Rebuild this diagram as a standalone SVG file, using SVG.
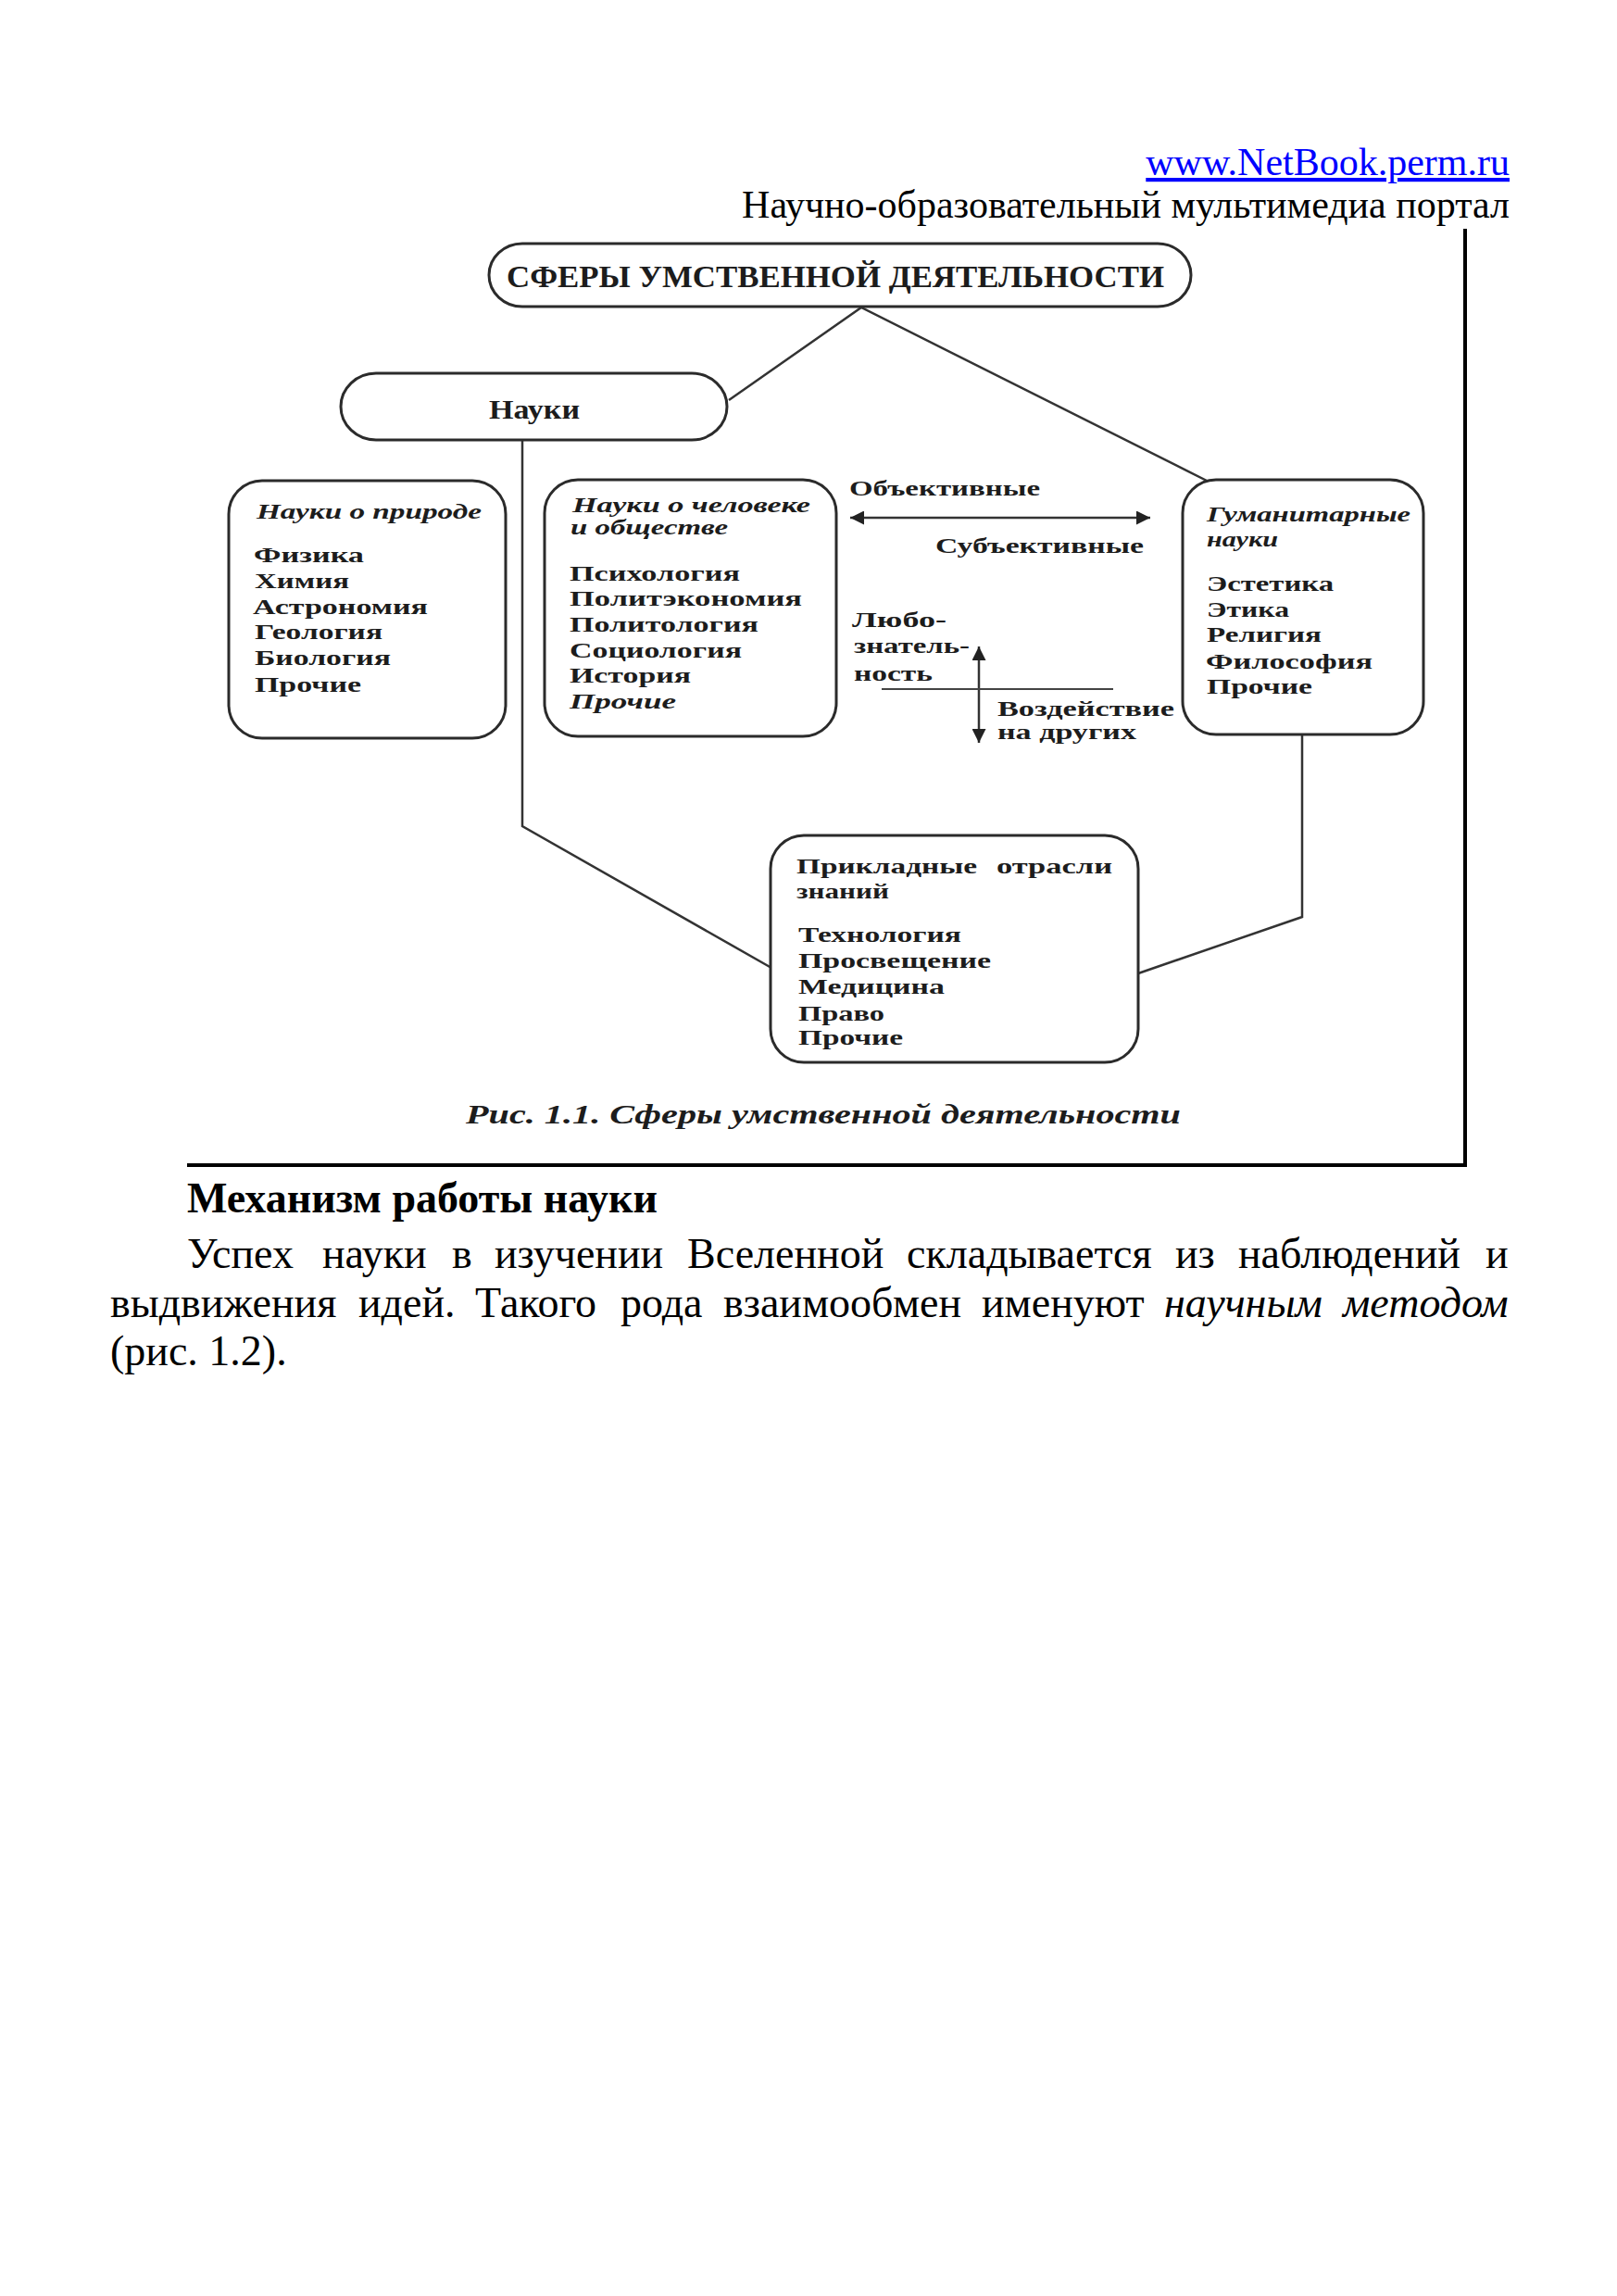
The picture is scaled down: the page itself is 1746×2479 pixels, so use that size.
<svg xmlns="http://www.w3.org/2000/svg" width="1746" height="2479" viewBox="0 0 1746 2479">
<style>
.page{font-family:"Liberation Serif","Times New Roman",serif;font-size:46px;fill:#000}
.hdr{font-family:"Liberation Serif","Times New Roman",serif;font-size:42px;fill:#000}
.d{font-family:"Liberation Serif","Times New Roman",serif;font-size:24px;font-weight:bold;fill:#1c1c1c}
.it{font-style:italic}
.box{fill:#fff;stroke:#2b2b2b;stroke-width:3}
.con{fill:none;stroke:#333;stroke-width:2.5}
.frame{fill:none;stroke:#000;stroke-width:4}
</style>
<defs>
<marker id="ah" viewBox="0 0 10 10" refX="10" refY="5" markerUnits="userSpaceOnUse" markerWidth="20" markerHeight="15" orient="auto-start-reverse">
<path d="M0,0 L10,5 L0,10 z" fill="#222"/>
</marker>
</defs>
<rect width="1746" height="2479" fill="#fff"/>

<g id="header">
<text class="hdr" x="1630" y="189" text-anchor="end" style="fill:#0000ff" text-decoration="underline">www.NetBook.perm.ru</text>
<text class="hdr" x="1630" y="235" text-anchor="end">Научно-образовательный мультимедиа портал</text>
</g>

<g id="frame">
<path class="frame" d="M1582,247 L1582,1258 L202,1258"/>
</g>

<g id="connectors">
<polyline class="con" points="787,432 930,332 1307,521"/>
<polyline class="con" points="564,475 564,892 833,1045"/>
<polyline class="con" points="1406,793 1406,990 1229,1051"/>
<line class="con" x1="918" y1="559" x2="1242" y2="559" marker-start="url(#ah)" marker-end="url(#ah)"/>
<line class="con" x1="1057" y1="698" x2="1057" y2="802" marker-start="url(#ah)" marker-end="url(#ah)"/>
<line x1="952" y1="744" x2="1202" y2="744" stroke="#444" stroke-width="2"/>
</g>

<g id="node-root">
<rect class="box" x="528" y="263" width="758" height="68" rx="36" ry="34"/>
<text class="d" x="547" y="310" style="font-size:34px" textLength="710" lengthAdjust="spacingAndGlyphs">СФЕРЫ УМСТВЕННОЙ ДЕЯТЕЛЬНОСТИ</text>
</g>

<g id="node-nauki">
<rect class="box" x="368" y="403" width="417" height="72" rx="38" ry="36"/>
<text class="d" x="528" y="452" style="font-size:29px" textLength="98" lengthAdjust="spacingAndGlyphs">Науки</text>
</g>

<g id="node-nature">
<rect class="box" x="247" y="519" width="299" height="278" rx="36"/>
<text class="d it" x="277" y="560" textLength="243" lengthAdjust="spacingAndGlyphs">Науки о природе</text>
<text class="d" x="274" y="607" textLength="119" lengthAdjust="spacingAndGlyphs">Физика</text>
<text class="d" x="275" y="635" textLength="102" lengthAdjust="spacingAndGlyphs">Химия</text>
<text class="d" x="273" y="663" textLength="189" lengthAdjust="spacingAndGlyphs">Астрономия</text>
<text class="d" x="275" y="690" textLength="138" lengthAdjust="spacingAndGlyphs">Геология</text>
<text class="d" x="275" y="718" textLength="147" lengthAdjust="spacingAndGlyphs">Биология</text>
<text class="d" x="275" y="747" textLength="115" lengthAdjust="spacingAndGlyphs">Прочие</text>
</g>

<g id="node-society">
<rect class="box" x="588" y="518" width="315" height="277" rx="36"/>
<text class="d it" x="618" y="553" textLength="257" lengthAdjust="spacingAndGlyphs">Науки о человеке</text>
<text class="d it" x="616" y="577" textLength="170" lengthAdjust="spacingAndGlyphs">и обществе</text>
<text class="d" x="615" y="627" textLength="184" lengthAdjust="spacingAndGlyphs">Психология</text>
<text class="d" x="615" y="654" textLength="251" lengthAdjust="spacingAndGlyphs">Политэкономия</text>
<text class="d" x="615" y="682" textLength="204" lengthAdjust="spacingAndGlyphs">Политология</text>
<text class="d" x="615" y="710" textLength="186" lengthAdjust="spacingAndGlyphs">Социология</text>
<text class="d" x="615" y="737" textLength="131" lengthAdjust="spacingAndGlyphs">История</text>
<text class="d it" x="615" y="765" textLength="115" lengthAdjust="spacingAndGlyphs">Прочие</text>
</g>

<g id="labels-middle">
<text class="d" x="917" y="535" textLength="206" lengthAdjust="spacingAndGlyphs">Объективные</text>
<text class="d" x="1010" y="597" textLength="225" lengthAdjust="spacingAndGlyphs">Субъективные</text>
<text class="d" x="920" y="677" textLength="102" lengthAdjust="spacingAndGlyphs">Любо-</text>
<text class="d" x="922" y="705" textLength="125" lengthAdjust="spacingAndGlyphs">знатель-</text>
<text class="d" x="922" y="735" textLength="85" lengthAdjust="spacingAndGlyphs">ность</text>
<text class="d" x="1077" y="773" textLength="191" lengthAdjust="spacingAndGlyphs">Воздействие</text>
<text class="d" x="1077" y="798" textLength="150" lengthAdjust="spacingAndGlyphs">на других</text>
</g>

<g id="node-humanities">
<rect class="box" x="1277" y="518" width="260" height="275" rx="36"/>
<text class="d it" x="1303" y="563" textLength="220" lengthAdjust="spacingAndGlyphs">Гуманитарные</text>
<text class="d it" x="1303" y="590" textLength="77" lengthAdjust="spacingAndGlyphs">науки</text>
<text class="d" x="1303" y="638" textLength="137" lengthAdjust="spacingAndGlyphs">Эстетика</text>
<text class="d" x="1303" y="666" textLength="89" lengthAdjust="spacingAndGlyphs">Этика</text>
<text class="d" x="1303" y="693" textLength="124" lengthAdjust="spacingAndGlyphs">Религия</text>
<text class="d" x="1302" y="722" textLength="180" lengthAdjust="spacingAndGlyphs">Философия</text>
<text class="d" x="1303" y="749" textLength="114" lengthAdjust="spacingAndGlyphs">Прочие</text>
</g>

<g id="node-applied">
<rect class="box" x="832" y="902" width="397" height="245" rx="36"/>
<text class="d" x="860" y="943" textLength="195" lengthAdjust="spacingAndGlyphs">Прикладные</text>
<text class="d" x="1076" y="943" textLength="125" lengthAdjust="spacingAndGlyphs">отрасли</text>
<text class="d" x="860" y="970" textLength="100" lengthAdjust="spacingAndGlyphs">знаний</text>
<text class="d" x="862" y="1017" textLength="176" lengthAdjust="spacingAndGlyphs">Технология</text>
<text class="d" x="862" y="1045" textLength="208" lengthAdjust="spacingAndGlyphs">Просвещение</text>
<text class="d" x="862" y="1073" textLength="158" lengthAdjust="spacingAndGlyphs">Медицина</text>
<text class="d" x="862" y="1102" textLength="93" lengthAdjust="spacingAndGlyphs">Право</text>
<text class="d" x="862" y="1128" textLength="113" lengthAdjust="spacingAndGlyphs">Прочие</text>
</g>

<g id="caption">
<text class="d it" x="503" y="1213" style="font-size:30px" textLength="772" lengthAdjust="spacingAndGlyphs">Рис. 1.1. Сферы умственной деятельности</text>
</g>

<g id="body">
<text class="page" x="202" y="1309" font-weight="bold">Механизм работы науки</text>
<text class="page" y="1369"><tspan x="202">Успех</tspan><tspan x="348">науки</tspan><tspan x="488">в</tspan><tspan x="534">изучении</tspan><tspan x="742">Вселенной</tspan><tspan x="979">складывается</tspan><tspan x="1269">из</tspan><tspan x="1337">наблюдений</tspan><tspan x="1604">и</tspan></text>
<text class="page" y="1422"><tspan x="119">выдвижения</tspan><tspan x="387">идей.</tspan><tspan x="513">Такого</tspan><tspan x="670">рода</tspan><tspan x="781">взаимообмен</tspan><tspan x="1060">именуют</tspan><tspan x="1257" font-style="italic">научным</tspan><tspan x="1450" font-style="italic">методом</tspan></text>
<text class="page" x="119" y="1474">(рис. 1.2).</text>
</g>
</svg>
